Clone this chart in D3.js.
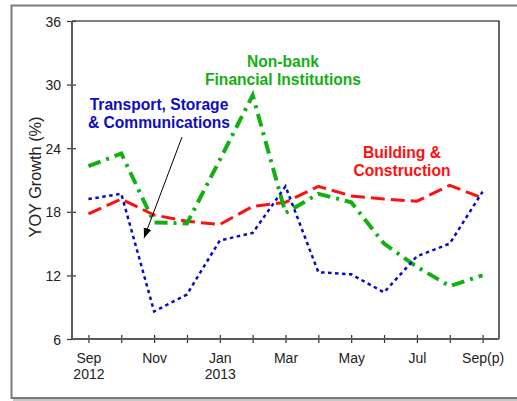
<!DOCTYPE html>
<html>
<head>
<meta charset="utf-8">
<script src="https://cdn.jsdelivr.net/npm/d3@7"></script>
<style>
  html, body { margin: 0; padding: 0; background: #fff; }
  svg { display: block; font-family: Arial, "Liberation Sans", Helvetica, sans-serif; }
</style>
</head>
<body>
<svg id="chart" width="517" height="401"></svg>
<script>
// ---- data ----
const months = ["Sep 2012","Oct 2012","Nov 2012","Dec 2012","Jan 2013","Feb 2013","Mar 2013",
                "Apr 2013","May 2013","Jun 2013","Jul 2013","Aug 2013","Sep 2013"];
const tickLabels = ["Sep","","Nov","","Jan","","Mar","","May","","Jul","","Sep(p)"];
const tickYears  = ["2012","","","","2013","","","","","","","",""];
const yTicks = [6, 12, 18, 24, 30, 36];

const transport = [19.2, 19.7, 8.6, 10.2, 15.3, 16.0, 20.4, 12.3, 12.1, 10.4, 13.8, 15.0, 19.9];
const building  = [17.8, 19.2, 17.7, 17.1, 16.8, 18.5, 18.9, 20.4, 19.5, 19.2, 19.0, 20.5, 19.3];
const nonbank   = [22.3, 23.5, 17.0, 16.9, 22.9, 29.0, 17.9, 19.7, 18.9, 15.0, 12.8, 11.0, 12.0];

const seriesNames = ["Transport, Storage & Communications", "Building & Construction", "Non-bank Financial Institutions"];

// ---- layout ----
const svg = d3.select("#chart");
const L = 72, R = 499, T = 21, B = 339;

const x = d3.scalePoint().domain(months).range([L, R]).padding(0.5);
const y = d3.scaleLinear().domain([6, 36]).range([B, T]);

// outer frame with shadow
svg.append("line").attr("x1", 13).attr("x2", 530).attr("y1", 400).attr("y2", 400)
  .attr("stroke", "#c8c8c8").attr("stroke-width", 2);
svg.append("rect").attr("x", 11.5).attr("y", 5.5).attr("width", 530).attr("height", 392.5)
  .attr("fill", "none").attr("stroke", "#7a7a7a").attr("stroke-width", 2);

// plot frame top/right
svg.append("path").attr("d", `M${L},${T}H${R}V${B}`)
  .attr("fill", "none").attr("stroke", "#000").attr("stroke-width", 1.2);

// axes
const xAxis = d3.axisBottom(x).tickSizeInner(0).tickSizeOuter(0).tickFormat("");
const gx = svg.append("g").attr("transform", `translate(0,${B})`).call(xAxis);
gx.select(".domain").remove();
gx.selectAll(".tick line").remove();
gx.selectAll(".tick").append("line").attr("y1", -4).attr("y2", 4)
  .attr("stroke", "#333").attr("stroke-width", 1.2);
gx.selectAll(".tick").each(function(d, i) {
  const g = d3.select(this);
  g.append("text").attr("y", 24).attr("text-anchor", "middle").attr("fill", "#222")
    .style("font-size", "14px").text(tickLabels[i]);
  if (tickYears[i]) g.append("text").attr("y", 40).attr("text-anchor", "middle").attr("fill", "#222")
    .style("font-size", "14px").text(tickYears[i]);
});

const yAxis = d3.axisLeft(y).tickValues(yTicks).tickSizeInner(0).tickSizeOuter(0).tickFormat("");
const gy = svg.append("g").attr("transform", `translate(${L},0)`).call(yAxis);
gy.select(".domain").remove();
gy.selectAll(".tick line").remove();
gy.selectAll(".tick").append("line").attr("x1", -5).attr("x2", 4)
  .attr("stroke", "#333").attr("stroke-width", 1.2);
gy.selectAll(".tick").append("text").attr("x", -11).attr("dy", "0.36em").attr("text-anchor", "end")
  .attr("fill", "#222").style("font-size", "14px").text(d => d);

// axis lines (gray, thicker)
svg.append("line").attr("x1", L).attr("x2", L).attr("y1", T).attr("y2", B)
  .attr("stroke", "#5a5a5a").attr("stroke-width", 2);
svg.append("line").attr("x1", L).attr("x2", R).attr("y1", B).attr("y2", B)
  .attr("stroke", "#5a5a5a").attr("stroke-width", 2);

// y title
svg.append("text").attr("transform", "translate(41,177) rotate(-90)")
  .attr("text-anchor", "middle").attr("fill", "#222").style("font-size", "16.3px")
  .text("YOY Growth (%)");

// lines
const line = d3.line().x((d, i) => x(months[i])).y(d => y(d));
svg.append("path").datum(building).attr("d", line).attr("fill", "none")
  .attr("stroke", "#ff1010").attr("stroke-width", 3).attr("stroke-dasharray", "14,6");
svg.append("path").datum(nonbank).attr("d", line).attr("fill", "none")
  .attr("stroke", "#13b013").attr("stroke-width", 4).attr("stroke-dasharray", "13,6,3,6");
svg.append("path").datum(transport).attr("d", line).attr("fill", "none")
  .attr("stroke", "#0a0ac0").attr("stroke-width", 2.5).attr("stroke-dasharray", "3.5,3.5");

// arrow
const defs = svg.append("defs");
defs.append("marker").attr("id", "arr").attr("viewBox", "0 0 10 10").attr("refX", 10).attr("refY", 5)
  .attr("markerWidth", 10).attr("markerHeight", 10).attr("markerUnits", "userSpaceOnUse")
  .attr("orient", "auto")
  .append("path").attr("d", "M0,1 L10,5 L0,9 Z").attr("fill", "#000");
svg.append("line").attr("x1", 182).attr("y1", 137).attr("x2", 144).attr("y2", 238)
  .attr("stroke", "#000").attr("stroke-width", 1).attr("marker-end", "url(#arr)");

// annotations
function label(lines, cx, y0, color) {
  const t = svg.append("text").attr("text-anchor", "middle").attr("fill", color)
    .style("font-size", "15.6px").style("font-weight", "bold");
  lines.forEach((s, i) => t.append("tspan").attr("x", cx).attr("y", y0 + i * 18).text(s));
}
label(["Transport, Storage", "& Communications"], 159, 110, "#0d0dbf");
label(["Non-bank", "Financial Institutions"], 283, 67, "#13b013");
label(["Building &", "Construction"], 402, 158, "#ff1010");
</script>
</body>
</html>
